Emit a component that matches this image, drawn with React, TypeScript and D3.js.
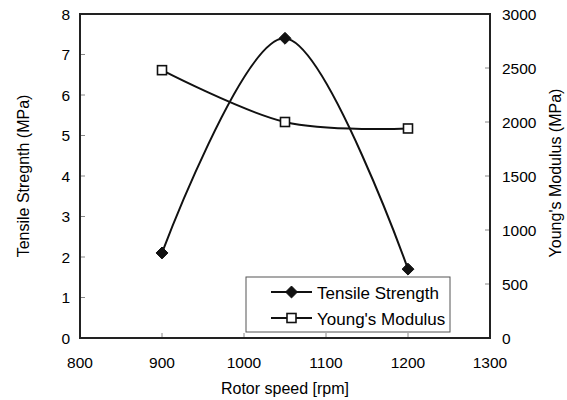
import React, { useEffect, useRef } from 'react';
import * as d3 from 'd3';

const speeds = [900, 1050, 1200];
const tensile = [2.1, 7.4, 1.7];
const modulus = [2480, 2000, 1940];
const xTicks = [800, 900, 1000, 1100, 1200, 1300];
const leftTicks = [0, 1, 2, 3, 4, 5, 6, 7, 8];
const rightTicks = [0, 500, 1000, 1500, 2000, 2500, 3000];
const seriesNames = ['Tensile Strength', "Young's Modulus"];

export default function App() {
  const ref = useRef<SVGSVGElement>(null);

  useEffect(() => {
    const svg = d3.select(ref.current);
    svg.selectAll('*').remove();
    const width = 567;
    const height = 400;
    const m = { left: 80, right: 77, top: 14, bottom: 62 };
    const font = 'Liberation Sans, Arial, sans-serif';

    const x = d3.scaleLinear().domain([800, 1300]).range([m.left, width - m.right]);
    const yL = d3.scaleLinear().domain([0, 8]).range([height - m.bottom, m.top]);
    const yR = d3.scaleLinear().domain([0, 3000]).range([height - m.bottom, m.top]);

    const g = svg.append('g');

    // tick marks (inside)
    g.selectAll('.xt').data(xTicks.slice(1, -1)).enter().append('line')
      .attr('x1', d => x(d)).attr('x2', d => x(d))
      .attr('y1', yL(0)).attr('y2', yL(0) - 5)
      .attr('stroke', '#888').attr('stroke-width', 1);
    g.selectAll('.lt').data(leftTicks.slice(1, -1)).enter().append('line')
      .attr('x1', x(800)).attr('x2', x(800) + 5)
      .attr('y1', d => yL(d)).attr('y2', d => yL(d))
      .attr('stroke', '#888').attr('stroke-width', 1);
    g.selectAll('.rt').data(rightTicks.slice(1, -1)).enter().append('line')
      .attr('x1', x(1300)).attr('x2', x(1300) - 5)
      .attr('y1', d => yR(d)).attr('y2', d => yR(d))
      .attr('stroke', '#888').attr('stroke-width', 1);

    // frame
    g.append('rect')
      .attr('x', x(800)).attr('y', yL(8))
      .attr('width', x(1300) - x(800)).attr('height', yL(0) - yL(8))
      .attr('fill', 'none').attr('stroke', '#222').attr('stroke-width', 2);

    // tick labels
    g.selectAll('.xl').data(xTicks).enter().append('text')
      .attr('x', d => x(d)).attr('y', yL(0) + 30)
      .attr('text-anchor', 'middle').attr('font-family', font).attr('font-size', 15.5)
      .text(d => d);
    g.selectAll('.ll').data(leftTicks).enter().append('text')
      .attr('x', x(800) - 10).attr('y', d => yL(d) + 5.5)
      .attr('text-anchor', 'end').attr('font-family', font).attr('font-size', 15.5)
      .text(d => d);
    g.selectAll('.rl').data(rightTicks).enter().append('text')
      .attr('x', x(1300) + 12).attr('y', d => yR(d) + 5.5)
      .attr('text-anchor', 'start').attr('font-family', font).attr('font-size', 15.5)
      .text(d => d);

    // axis titles
    g.append('text')
      .attr('x', (x(800) + x(1300)) / 2).attr('y', 394)
      .attr('text-anchor', 'middle').attr('font-family', font).attr('font-size', 16)
      .text('Rotor speed [rpm]');
    g.append('text')
      .attr('transform', `translate(29,${(yL(0) + yL(8)) / 2}) rotate(-90)`)
      .attr('text-anchor', 'middle').attr('font-family', font).attr('font-size', 16)
      .text('Tensile Stregnth (MPa)');
    g.append('text')
      .attr('transform', `translate(561,${(yL(0) + yL(8)) / 2 - 3}) rotate(-90)`)
      .attr('text-anchor', 'middle').attr('font-family', font).attr('font-size', 16)
      .text("Young's Modulus (MPa)");

    const curve = d3.curveCardinal.tension(0);

    const lineT = d3.line<number>().x((d, i) => x(speeds[i])).y(d => yL(d)).curve(curve);
    const lineM = d3.line<number>().x((d, i) => x(speeds[i])).y(d => yR(d)).curve(curve);

    g.append('path').attr('d', lineM(modulus)!)
      .attr('fill', 'none').attr('stroke', '#111').attr('stroke-width', 2);
    g.append('path').attr('d', lineT(tensile)!)
      .attr('fill', 'none').attr('stroke', '#111').attr('stroke-width', 2);

    const diamond = d3.symbol().type(d3.symbolDiamond2).size(90);
    const drawDiamond = (sel: any, cx: number, cy: number) =>
      sel.append('path').attr('d', diamond()!).attr('transform', `translate(${cx},${cy})`)
        .attr('fill', '#111').attr('stroke', '#111');
    const drawSquare = (sel: any, cx: number, cy: number) =>
      sel.append('rect').attr('x', cx - 4.5).attr('y', cy - 4.5).attr('width', 9).attr('height', 9)
        .attr('fill', '#fff').attr('stroke', '#111').attr('stroke-width', 1.6);

    modulus.forEach((v, i) => drawSquare(g, x(speeds[i]), yR(v)));
    tensile.forEach((v, i) => drawDiamond(g, x(speeds[i]), yL(v)));

    // legend
    const lg = g.append('g');
    lg.append('rect').attr('x', 246).attr('y', 277).attr('width', 204).attr('height', 55)
      .attr('fill', '#fff').attr('stroke', '#555').attr('stroke-width', 1);
    seriesNames.forEach((name, i) => {
      const cy = 292 + i * 26;
      lg.append('line').attr('x1', 271).attr('x2', 312).attr('y1', cy).attr('y2', cy)
        .attr('stroke', '#111').attr('stroke-width', 2);
      if (i === 0) drawDiamond(lg, 291.5, cy);
      else drawSquare(lg, 291.5, cy);
      lg.append('text').attr('x', 317).attr('y', cy + 6.5)
        .attr('font-family', font).attr('font-size', 17)
        .text(name);
    });
  }, []);

  return (
    <svg ref={ref} width={567} height={400}
      style={{ position: 'absolute', left: 0, top: 0, background: '#fff' }} />
  );
}
